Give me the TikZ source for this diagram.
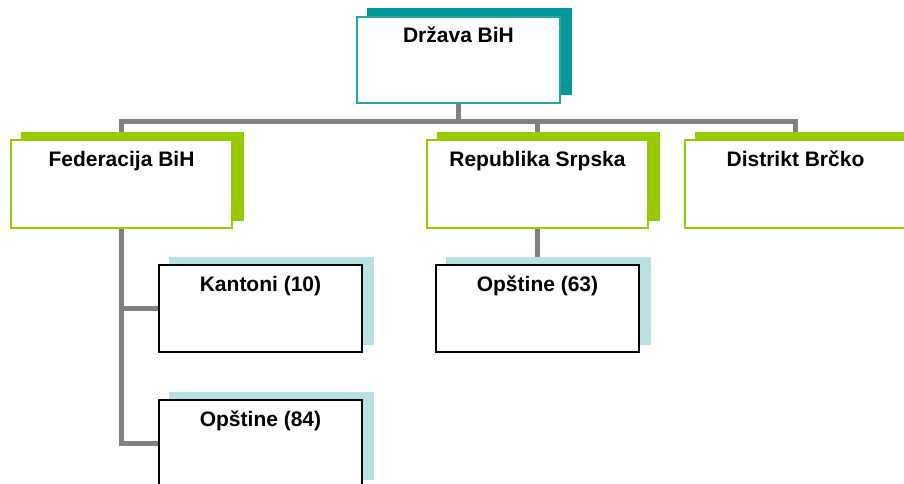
\documentclass[tikz,border=0pt]{standalone}
\usepackage{fontspec}
\setmainfont{Liberation Sans}
\usetikzlibrary{positioning, shadows, backgrounds}

\definecolor{tealshade}{HTML}{009999}
\definecolor{tealline}{HTML}{2AA3A3}
\definecolor{limeshade}{HTML}{99CC00}
\definecolor{iceshade}{HTML}{B9E0E2}
\definecolor{linkgray}{HTML}{808080}

\tikzset{
	unit/.style={rectangle, inner sep=0pt, outer sep=0pt, fill=white, text height=26pt,
		font=\fontsize{21}{25}\selectfont\bfseries},
	statebox/.style={unit, draw=tealline, line width=1.5pt, minimum width=203pt, text depth=60pt,
		copy shadow={shadow xshift=11pt, shadow yshift=8.5pt, fill=tealshade, draw=tealshade}},
	entitybox/.style={unit, draw=limeshade, line width=1.5pt, minimum width=221pt, text depth=62pt,
		copy shadow={shadow xshift=11pt, shadow yshift=7.5pt, fill=limeshade, draw=limeshade}},
	localbox/.style={unit, draw=black, line width=1.8pt, minimum width=203pt, text depth=61pt,
		copy shadow={shadow xshift=11pt, shadow yshift=7.5pt, fill=iceshade, draw=iceshade}},
	link/.style={draw=linkgray, line width=5pt}
}

\begin{document}
\begin{tikzpicture}[x=1pt, y=-1pt]
		\path [use as bounding box, clip] (0,0) rectangle (904,484);

		\node (drzava) [statebox] at (458.5,60) {Država BiH};
		\node (fbih) [entitybox] at (121.5,184) {Federacija BiH};
		\node (rs) [entitybox] at (537.5,184) {Republika Srpska};
		\node (brcko) [entitybox] at (795.5,184) {Distrikt Brčko};
		\node (kantoni) [localbox] at (260.5,308.5) {Kantoni (10)};
		\node (op84) [localbox, below = 48pt of kantoni] {Opštine (84)};
		\node (op63) [localbox, below = 37pt of rs] {Opštine (63)};
		\coordinate (bus) at (0,122);

		\begin{scope}[on background layer]
			\draw [link] (drzava) -- (drzava |- bus) -| (fbih);
			\draw [link] (drzava |- bus) -| (rs);
			\draw [link] (drzava |- bus) -| (brcko);
			\draw [link] (fbih) |- (kantoni);
			\draw [link] (fbih) |- (op84);
			\draw [link] (rs) -- (op63);
		\end{scope}
	\end{tikzpicture}
\end{document}
